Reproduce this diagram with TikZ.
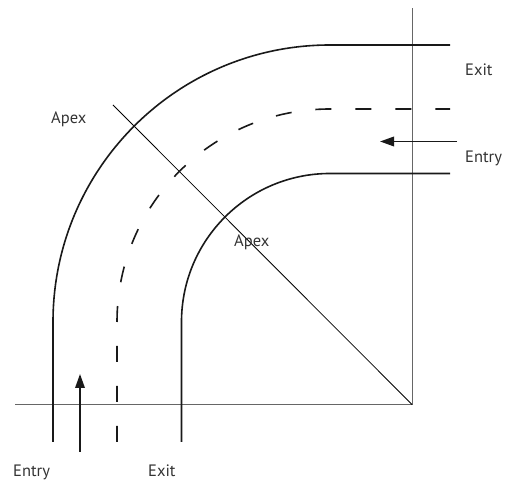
\documentclass[tikz,border=0pt]{standalone}
\usepackage{fontspec}
\setmainfont{PT Sans}
\usetikzlibrary{arrows.meta}
\begin{document}
\begin{tikzpicture}[x=1pt,y=1pt,
  track/.style={line width=1.6pt, black!90},
  axis/.style={line width=0.9pt, black!60},
  guide/.style={line width=0.8pt, black},
  lane/.style={track, dash pattern=on 16pt off 24pt},
  lbl/.style={font=\fontsize{16.5}{18}\selectfont, text=black!80, inner sep=0pt, anchor=base west},
  flow/.style={line width=1.8pt, black!90, -{Triangle[length=14pt,width=9.5pt]}}]
\useasboundingbox (0,0) rectangle (511,481);
% axes
\coordinate (O) at (330,159);
\coordinate (axL) at (15,76.5);
\coordinate (axC) at (412,76.5);
\coordinate (axT) at (412,473);
\draw[axis] (axL) -- (axC) -- (axT);
% apex guide
\coordinate (apexEnd) at (113,376);
\draw[guide] (apexEnd) -- (axC);
% track edges
\draw[track] (53,39) -- (53,159) arc[start angle=180,end angle=90,radius=277] -- (450,436);
\draw[track] (181.5,39) -- (181.5,159) arc[start angle=180,end angle=90,radius=148.5] -- (450,307.5);
\draw[lane] (117,39) -- (117,159) arc[start angle=180,end angle=90,radius=213] -- (450,372);
% flow arrows
\coordinate (inA) at (80,29);
\coordinate (inB) at (80,107);
\coordinate (rA) at (457,339.5);
\coordinate (rB) at (380,339.5);
\draw[flow] (inA) -- (inB);
\draw[flow] (rA) -- (rB);
% labels
\node[lbl] (exitR) at (465,405) {Exit};
\node[lbl] (entryR) at (465,318) {Entry};
\node[lbl] (apexL) at (51,357) {Apex};
\node[lbl] (apexM) at (234,234) {Apex};
\node[lbl] (entryB) at (13,4.5) {Entry};
\node[lbl] (exitB) at (148,4.5) {Exit};
\end{tikzpicture}
\end{document}
